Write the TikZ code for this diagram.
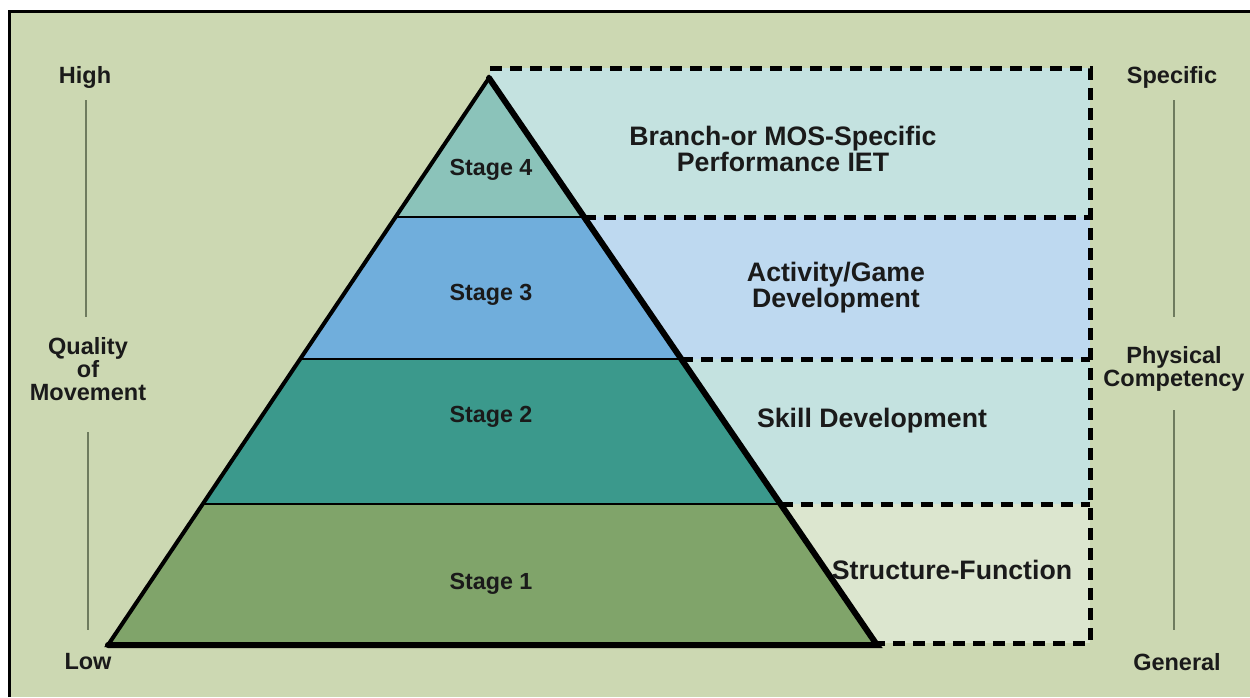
\documentclass[tikz,border=0pt]{standalone}
\usepackage{fontspec}
\setmainfont{Liberation Sans}
\definecolor{bgc}{HTML}{CCD8B2}
\definecolor{bandA}{HTML}{C4E2E0}
\definecolor{bandB}{HTML}{BED9F0}
\definecolor{bandC}{HTML}{C4E2E0}
\definecolor{bandD}{HTML}{DCE6CF}
\definecolor{stFour}{HTML}{8BC3BA}
\definecolor{stThree}{HTML}{70AEDC}
\definecolor{stTwo}{HTML}{3B998C}
\definecolor{stOne}{HTML}{80A46A}
\definecolor{axisc}{HTML}{6E7B5E}
\definecolor{txt}{HTML}{1A1A1A}
\tikzset{
  lbl/.style={font=\bfseries\fontsize{23.5}{23}\selectfont, text=txt, inner sep=0pt, align=center},
  bandlbl/.style={font=\bfseries\fontsize{26.7}{26}\selectfont, text=txt, inner sep=0pt, align=center},
  stg/.style={font=\bfseries\fontsize{23.3}{24}\selectfont, text=txt, inner sep=0pt},
  dsh/.style={line width=5pt, dash pattern=on 12pt off 8pt},
  axisline/.style={draw=axisc, line width=2pt},
}
\begin{document}
\begin{tikzpicture}[x=1pt,y=-1pt]
\useasboundingbox (0,0) rectangle (1250,697);
\fill[white] (0,0) rectangle (1250,697);
\fill[bgc] (9.5,11.5) rectangle (1250,697);
\draw[line width=3pt] (9.5,697) -- (9.5,11.5) -- (1250,11.5);

% coordinates
\coordinate (apex) at (489,78);
\coordinate (bl) at (108,645);
\coordinate (br) at (877,645);
\coordinate (l1) at (395.6,217);
\coordinate (r1) at (584.1,217);
\coordinate (l2) at (300.2,359);
\coordinate (r2) at (681.3,359);
\coordinate (l3) at (202.7,504);
\coordinate (r3) at (780.5,504);
\coordinate (tl) at (490,68);
\coordinate (tr) at (1090,68);
\coordinate (e1) at (1090,217);
\coordinate (e2) at (1090,359);
\coordinate (e3) at (1090,504);
\coordinate (brc) at (1090,643);
\coordinate (bb) at (877,643);

% band fills
\fill[bandA] (490,68) rectangle (1090,217);
\fill[bandB] (490,217) rectangle (1090,359);
\fill[bandC] (490,359) rectangle (1090,504);
\fill[bandD] (490,504) rectangle (1090,643);

% stages
\fill[stFour] (apex) -- (r1) -- (l1) -- cycle;
\fill[stThree] (l1) -- (r1) -- (r2) -- (l2) -- cycle;
\fill[stTwo] (l2) -- (r2) -- (r3) -- (l3) -- cycle;
\fill[stOne] (l3) -- (r3) -- (br) -- (bl) -- cycle;
\draw[line width=2.5pt] (l1) -- (r1) (l2) -- (r2) (l3) -- (r3);

% dashed box
\draw[dsh] (tl) -- (tr) -- (brc) -- (bb);
\draw[dsh] (r1) -- (e1);
\draw[dsh] (r2) -- (e2);
\draw[dsh] (r3) -- (e3);

% pyramid outline
\draw[line width=4pt, line join=miter] (bl) -- (apex) -- (br) -- cycle;
\draw[line width=6pt, line cap=round] (apex) -- (br) -- (bl);

% stage labels
\node[stg] (s4) at (491,170) {Stage 4};
\node[stg] (s3) at (491,295) {Stage 3};
\node[stg] (s2) at (491,417) {Stage 2};
\node[stg] (s1) at (491,584) {Stage 1};

% band labels
\node[bandlbl] (b4) at (783,149) {Branch-or MOS-Specific\\Performance IET};
\node[bandlbl] (b3) at (836,288) {Activity/Game\\Development};
\node[bandlbl] (b2) at (872,421) {Skill Development};
\node[bandlbl] (b1) at (952,570) {Structure-Function};

% left axis
\node[lbl] (high) at (85,77) {High};
\node[lbl] (qual) at (88,369) {Quality\\of\\Movement};
\node[lbl] (low) at (88,662) {Low};
\coordinate (la1) at (86,100);
\coordinate (la2) at (86,317);
\coordinate (la3) at (88,432);
\coordinate (la4) at (88,630);
\draw[axisline] (la1) -- (la2);
\draw[axisline] (la3) -- (la4);

% right axis
\node[lbl] (spec) at (1172,77) {Specific};
\node[lbl] (phys) at (1174,369) {Physical\\Competency};
\node[lbl] (gen) at (1177,662) {General};
\coordinate (ra1) at (1174,100);
\coordinate (ra2) at (1174,317);
\coordinate (ra3) at (1174,410);
\coordinate (ra4) at (1174,630);
\draw[axisline] (ra1) -- (ra2);
\draw[axisline] (ra3) -- (ra4);
\end{tikzpicture}
\end{document}
